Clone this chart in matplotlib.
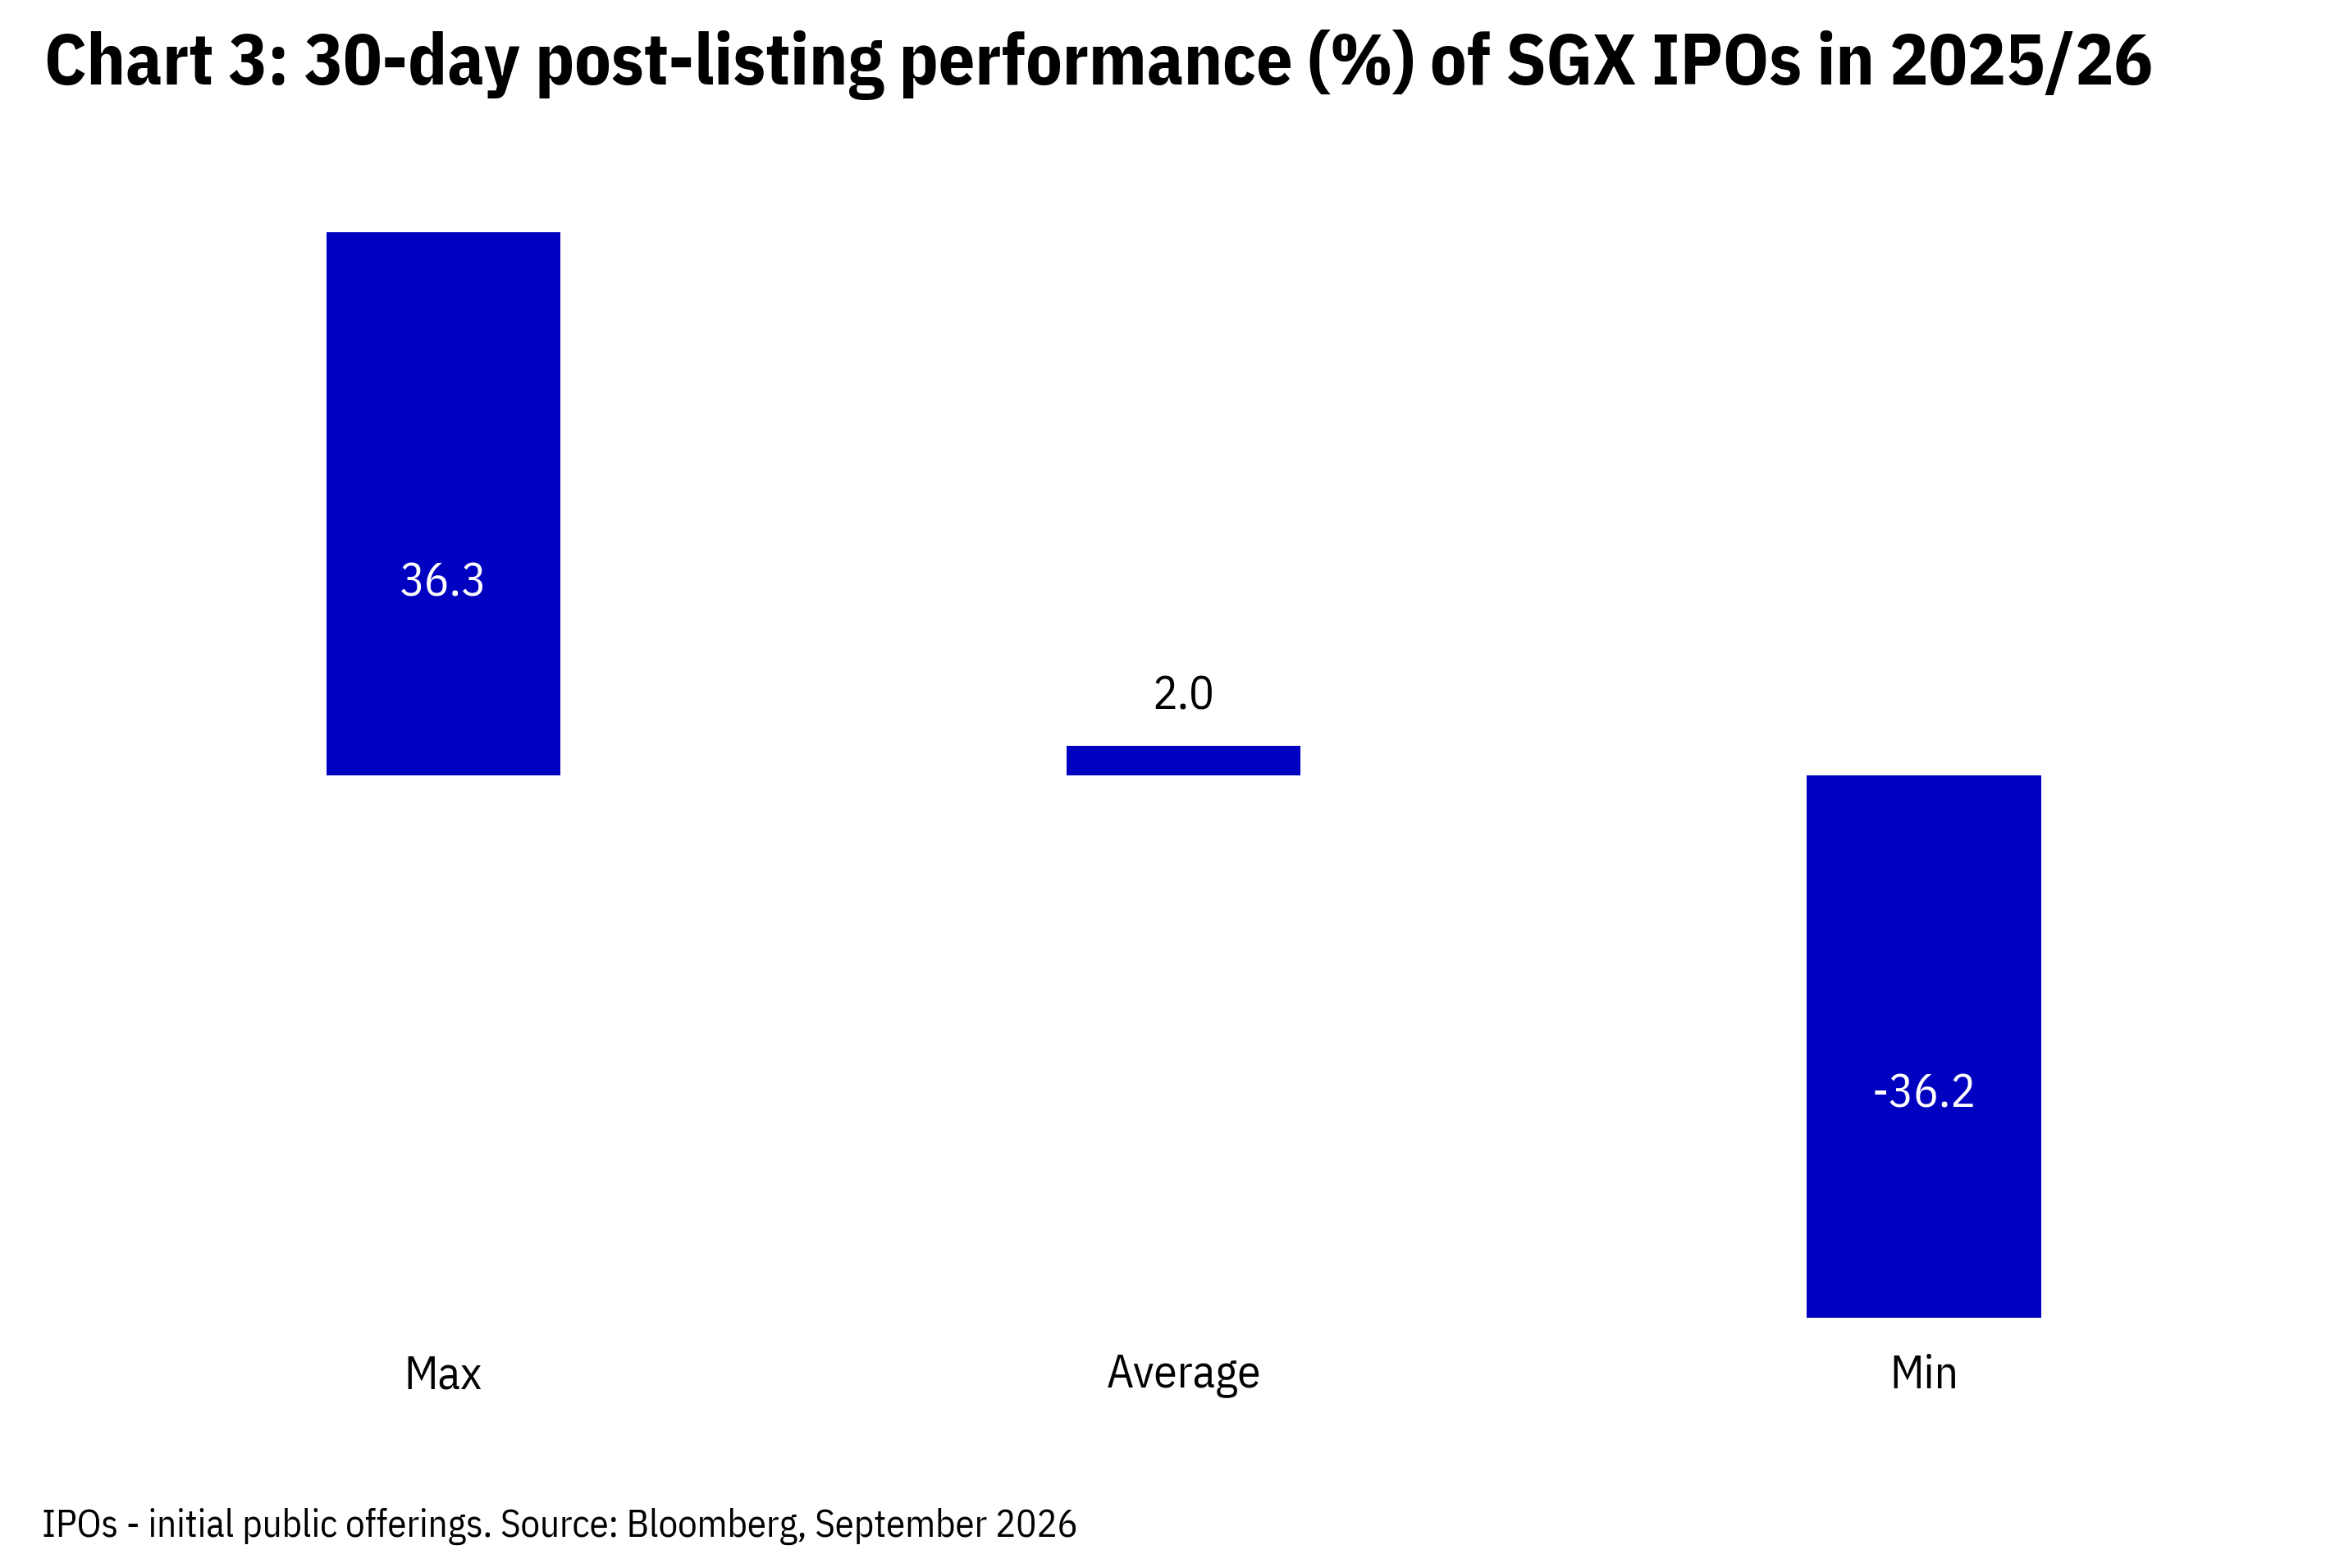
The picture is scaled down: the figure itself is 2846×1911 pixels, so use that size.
import matplotlib.pyplot as plt
import numpy as np

categories = ["Max", "Average", "Min"]
values = [36.3, 2.0, -36.2]
value_labels = ["36.3", "2.0", "-36.2"]

title = "Chart 3: 30-day post-listing performance (%) of SGX IPOs in 2025/26"
note = "IPOs - initial public offerings. Source: Bloomberg, September 2026"

plt.rcParams['font.family'] = ['IBM Plex Sans Condensed', 'DejaVu Sans']
bar_color = "#0000c0"

fig = plt.figure(figsize=(28.46, 19.11), dpi=100)
ax = fig.add_axes([0.0313, 0.1491, 0.9512, 0.7384])

x = np.arange(len(categories))
ax.bar(x, values, width=0.316, color=bar_color)

for xi, v, lab in zip(x, values, value_labels):
    if abs(v) > 10:
        # big bars: label inside, white
        y = v * 0.353 if v > 0 else v * 0.589
        ax.text(xi, y, lab, ha="center", va="center", color="white", fontsize=41)
    else:
        ax.annotate(lab, (xi, v), xytext=(0, 32), textcoords="offset points",
                    ha="center", va="baseline", color="black", fontsize=41)

ax.set_xlim(-0.5, 2.5)
ax.set_ylim(-37.3, 40)
ax.set_xticks(x)
ax.set_xticklabels(categories, fontsize=41)
ax.tick_params(axis="x", length=0, pad=17.5)
ax.set_yticks([])
for s in ax.spines.values():
    s.set_visible(False)

fig.text(0.019, 0.946, title, fontsize=63, fontweight="bold", va="baseline", ha="left")
fig.text(0.018, 0.0199, note, fontsize=33.7, va="baseline", ha="left")

fig.savefig("out.png", dpi=100)
